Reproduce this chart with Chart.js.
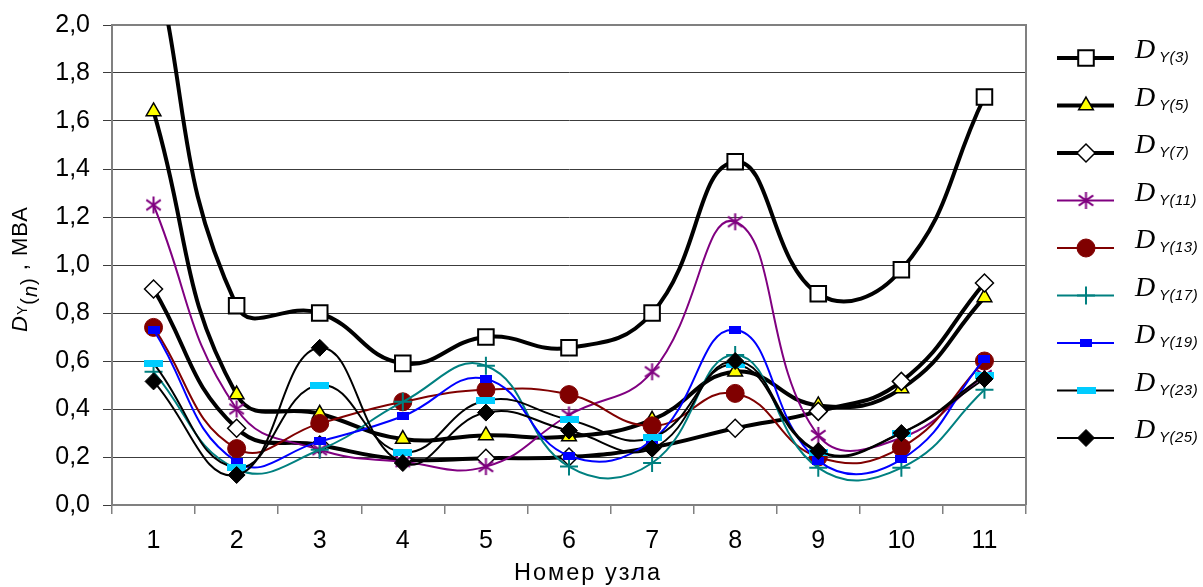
<!DOCTYPE html>
<html>
<head>
<meta charset="utf-8">
<script src="https://cdn.jsdelivr.net/npm/chart.js@4/dist/chart.umd.min.js"></script>
<style>
  html, body { margin: 0; padding: 0; background: #fff; }
  #wrap { width: 1203px; height: 587px; position: relative; }
</style>
</head>
<body>
<div id="wrap"><canvas id="chart" width="1203" height="587"></canvas></div>
<script>
// node numbers
const nodes = ['1', '2', '3', '4', '5', '6', '7', '8', '9', '10', '11'];
const yTickLabels = ['0,0', '0,2', '0,4', '0,6', '0,8', '1,0', '1,2', '1,4', '1,6', '1,8', '2,0'];

// harmonic distortion values, MVA
const dy3  = [2.30, 0.83, 0.80, 0.59, 0.70, 0.655, 0.80, 1.43, 0.88, 0.98, 1.70];
const dy5  = [1.64, 0.46, 0.38, 0.275, 0.29, 0.285, 0.355, 0.555, 0.415, 0.485, 0.865];
const dy7  = [0.90, 0.32, 0.25, 0.19, 0.195, 0.20, 0.24, 0.32, 0.39, 0.515, 0.925];
const dy11 = [1.25, 0.40, 0.23, 0.18, 0.16, 0.375, 0.555, 1.18, 0.29, 0.28, 0.54];
const dy13 = [0.74, 0.235, 0.34, 0.43, 0.48, 0.46, 0.33, 0.465, 0.20, 0.24, 0.60];
const dy17 = [0.555, 0.15, 0.23, 0.43, 0.58, 0.16, 0.175, 0.625, 0.155, 0.155, 0.48];
const dy19 = [0.73, 0.18, 0.265, 0.37, 0.525, 0.205, 0.27, 0.73, 0.185, 0.19, 0.61];
const dy23 = [0.59, 0.155, 0.50, 0.22, 0.435, 0.355, 0.28, 0.585, 0.22, 0.30, 0.54];
const dy25 = [0.515, 0.125, 0.655, 0.175, 0.385, 0.31, 0.235, 0.60, 0.225, 0.30, 0.525];

const harmonics = ['3', '5', '7', '11', '13', '17', '19', '23', '25'];

const FONT = '"Liberation Sans", Arial, sans-serif';

// small filled rectangles used as markers (blue square, cyan dash)
function rectMarker(w, h, color) {
    const c = document.createElement('canvas');
    c.width = w;
    c.height = h;
    const g = c.getContext('2d');
    g.fillStyle = color;
    g.fillRect(0, 0, w, h);
    return c;
}

// six-armed asterisk like the excel one
function asteriskMarker(size, color) {
    const c = document.createElement('canvas');
    c.width = size;
    c.height = size;
    const g = c.getContext('2d');
    const m = size / 2, r = size / 2 - 1;
    g.strokeStyle = color;
    g.lineWidth = 2;
    g.beginPath();
    g.moveTo(m, m - r); g.lineTo(m, m + r);
    g.moveTo(m - r * 0.85, m - r * 0.6); g.lineTo(m + r * 0.85, m + r * 0.6);
    g.moveTo(m - r * 0.85, m + r * 0.6); g.lineTo(m + r * 0.85, m - r * 0.6);
    g.stroke();
    return c;
}

const blueRect = rectMarker(12, 8, '#0000ff');
const cyanDash = rectMarker(19, 7, '#00ccff');
const purpleStar = asteriskMarker(19, '#800080');

const styles = [
    { data: dy3,  line: '#000', width: 4, point: 'rect',    radius: 11, fill: '#fff',    stroke: '#000', bw: 2 },
    { data: dy5,  line: '#000', width: 4, point: 'triangle', radius: 8.5, fill: '#ffff00', stroke: '#000', bw: 1.5 },
    { data: dy7,  line: '#000', width: 4, point: 'rectRot', radius: 9,  fill: '#fff',    stroke: '#000', bw: 1.5 },
    { data: dy11, line: '#800080', width: 2, point: purpleStar, radius: 9, fill: '#800080', stroke: '#800080', bw: 0 },
    { data: dy13, line: '#800000', width: 2, point: 'circle', radius: 9, fill: '#800000', stroke: '#800000', bw: 1 },
    { data: dy17, line: '#008080', width: 2, point: 'cross', radius: 9, fill: '#008080', stroke: '#008080', bw: 2 },
    { data: dy19, line: '#0000ff', width: 2, point: blueRect, radius: 6, fill: '#0000ff', stroke: '#0000ff', bw: 0 },
    { data: dy23, line: '#000', width: 2, point: cyanDash, radius: 9, fill: '#00ccff', stroke: '#00ccff', bw: 0 },
    { data: dy25, line: '#000', width: 2, point: 'rectRot', radius: 8.5, fill: '#000', stroke: '#000', bw: 1 }
];

const datasets = styles.map((s, i) => ({
    label: 'DY(' + harmonics[i] + ')',
    data: s.data,
    borderColor: s.line,
    borderWidth: s.width,
    tension: 0.45,
    pointStyle: s.point,
    pointRadius: s.radius,
    pointHoverRadius: s.radius,
    pointBackgroundColor: s.fill,
    pointBorderColor: s.stroke,
    pointBorderWidth: s.bw,
    order: styles.length - i
}));

function drawMarker(ctx, s, x, y) {
    ctx.save();
    ctx.fillStyle = s.fill;
    ctx.strokeStyle = s.stroke;
    ctx.lineWidth = s.bw;
    if (Chart.helpers && Chart.helpers.drawPoint) {
        Chart.helpers.drawPoint(ctx, { pointStyle: s.point, radius: s.radius, rotation: 0, borderWidth: s.bw }, x, y);
    } else if (typeof s.point !== 'string') {
        ctx.drawImage(s.point, x - s.point.width / 2, y - s.point.height / 2);
    }
    ctx.restore();
}

// write text pieces with their own font and baseline shift
function drawPieces(ctx, pieces, x, y) {
    let cx = x;
    pieces.forEach(p => {
        ctx.font = p.font;
        ctx.fillText(p.t, cx, y + (p.dy || 0));
        cx += ctx.measureText(p.t).width;
    });
    return cx - x;
}

function piecesWidth(ctx, pieces) {
    let w = 0;
    pieces.forEach(p => {
        ctx.font = p.font;
        w += ctx.measureText(p.t).width;
    });
    return w;
}

const decorations = {
    id: 'decorations',
    beforeDatasetsDraw(chart) {
        const { ctx, chartArea: a } = chart;
        ctx.save();
        ctx.strokeStyle = '#808080';
        ctx.lineWidth = 2;
        ctx.beginPath();
        ctx.moveTo(a.left, a.top);
        ctx.lineTo(a.right, a.top);
        ctx.lineTo(a.right, a.bottom);
        ctx.stroke();
        ctx.restore();
    },
    afterDraw(chart) {
        const { ctx } = chart;
        ctx.save();
        ctx.fillStyle = '#000';
        ctx.textBaseline = 'alphabetic';

        // x axis title
        ctx.letterSpacing = '2px';
        ctx.font = '23.5px ' + FONT;
        ctx.textAlign = 'center';
        ctx.fillText('Номер узла', 588, 580);
        ctx.textAlign = 'left';

        // y axis title, rotated
        ctx.letterSpacing = '1px';
        const yt = [
            { t: 'D', font: 'italic 22px ' + FONT },
            { t: 'Y', font: '14px ' + FONT },
            { t: '(', font: '20px ' + FONT, dy: 8 },
            { t: 'n', font: 'italic 20px ' + FONT, dy: 10 },
            { t: ')', font: '20px ' + FONT, dy: 8 },
            { t: ' , МВА', font: '22px ' + FONT }
        ];
        const tw = piecesWidth(ctx, yt);
        ctx.save();
        ctx.translate(27, 269);
        ctx.rotate(-Math.PI / 2);
        drawPieces(ctx, yt, -tw / 2, 0);
        ctx.restore();

        // legend
        styles.forEach((s, i) => {
            const y = 58 + i * 47.5;
            ctx.strokeStyle = s.line;
            ctx.lineWidth = s.width;
            ctx.beginPath();
            ctx.moveTo(1057, y);
            ctx.lineTo(1114, y);
            ctx.stroke();
            drawMarker(ctx, s, 1086, y);
            ctx.fillStyle = '#000';
            ctx.letterSpacing = '0px';
            ctx.font = 'italic 28px "Liberation Serif", "Times New Roman", serif';
            ctx.fillText('D', 1135, y);
            ctx.letterSpacing = '0.5px';
            ctx.font = 'italic 15px ' + FONT;
            ctx.fillText('Y(' + harmonics[i] + ')', 1159, y + 4);
        });
        ctx.restore();
    }
};

new Chart(document.getElementById('chart'), {
    type: 'line',
    data: { labels: nodes, datasets: datasets },
    options: {
        responsive: false,
        animation: false,
        events: [],
        layout: { padding: { top: 25, right: 177, left: 0, bottom: 0 } },
        plugins: {
            legend: { display: false },
            tooltip: { enabled: false }
        },
        scales: {
            x: {
                offset: true,
                afterFit: (scale) => { scale.height = 82; },
                grid: {
                    offset: true,
                    drawOnChartArea: false,
                    drawTicks: true,
                    tickLength: 9,
                    color: '#808080',
                    lineWidth: 1.5
                },
                border: { color: '#808080', width: 2 },
                ticks: {
                    font: { family: FONT, size: 25 },
                    color: '#000',
                    padding: 12,
                    maxRotation: 0
                }
            },
            y: {
                min: 0,
                max: 2,
                afterFit: (scale) => {
                    scale.width = 112;
                    scale.paddingTop = 0;
                    scale.paddingBottom = 0;
                },
                grid: {
                    color: '#3c3c3c',
                    lineWidth: 1,
                    tickLength: 9
                },
                border: { color: '#808080', width: 2 },
                ticks: {
                    stepSize: 0.2,
                    font: { family: FONT, size: 25 },
                    color: '#000',
                    padding: 13,
                    callback: (v, i) => yTickLabels[i]
                }
            }
        }
    },
    plugins: [decorations]
});
</script>
</body>
</html>
